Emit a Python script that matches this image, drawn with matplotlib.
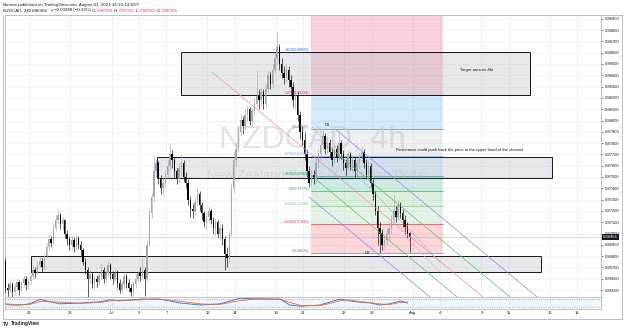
import matplotlib
matplotlib.use("Agg")
import matplotlib.pyplot as plt
import matplotlib.transforms as mtransforms
from matplotlib.patches import Rectangle

plt.rcParams['font.family'] = ['Liberation Sans', 'DejaVu Sans']

# ---------------- data (prices in pips, 1 pip = 0.0001) ----------------
first_open = 8676
closes = [
    8652, 8650, 8655, 8648, 8653,
    8657, 8650, 8656, 8660, 8654, 8658,
    8662, 8668, 8665, 8672, 8676, 8670,
    8680, 8688, 8695, 8692, 8705, 8712,
    8716, 8708, 8712, 8700, 8695, 8690,
    8694, 8688, 8696, 8690, 8685, 8675,
    8668, 8660, 8664, 8655, 8660, 8657,
    8662, 8668, 8660, 8665, 8672, 8664,
    8660, 8665, 8656, 8650, 8655, 8662,
    8656, 8652, 8648, 8655, 8660, 8665,
    8662, 8668, 8660, 8690, 8718, 8732,
    8755, 8762, 8748, 8740, 8745, 8752,
    8760, 8770, 8765, 8755, 8748, 8758,
    8762, 8750, 8745, 8730, 8722, 8720,
    8728, 8735, 8725, 8718, 8710, 8715,
    8720, 8712, 8705, 8710, 8700, 8705,
    8695, 8682, 8678, 8700, 8740, 8765,
    8775, 8790, 8800, 8795, 8805, 8810,
    8800, 8808, 8815, 8822, 8818, 8825,
    8815, 8828, 8840, 8832, 8845, 8855,
    8865, 8850, 8842, 8838, 8845, 8836,
    8830, 8818, 8822, 8805, 8790, 8783,
    8770, 8755, 8745, 8752, 8748, 8762,
    8770, 8778, 8786, 8775, 8780, 8772,
    8765, 8775, 8768, 8780, 8770, 8762,
    8758, 8770, 8760, 8765, 8755, 8762,
    8768, 8772, 8762, 8752, 8760, 8745,
    8735, 8720, 8705, 8700, 8690, 8694,
    8700, 8705, 8712, 8720, 8715, 8725,
    8718, 8712, 8706, 8700, 8696.6,
]
highs = [
    8678, 8656, 8658, 8657, 8656,
    8660, 8659, 8658, 8663, 8662, 8661,
    8665, 8672, 8670, 8676, 8680, 8678,
    8683, 8692, 8700, 8698, 8709, 8716,
    8721, 8718, 8715, 8713, 8703, 8698,
    8698, 8697, 8699, 8698, 8693, 8687,
    8678, 8670, 8668, 8666, 8663, 8663,
    8665, 8674, 8670, 8668, 8676, 8674,
    8667, 8669, 8668, 8660, 8658, 8666,
    8664, 8660, 8655, 8658, 8664, 8668,
    8670, 8678, 8670, 8694, 8722, 8736,
    8768, 8766, 8764, 8752, 8749, 8756,
    8765, 8780, 8774, 8768, 8758, 8762,
    8770, 8765, 8754, 8748, 8733, 8726,
    8732, 8740, 8738, 8728, 8720, 8719,
    8724, 8722, 8715, 8714, 8712, 8708,
    8708, 8698, 8688, 8703, 8745, 8772,
    8780, 8795, 8806, 8804, 8810, 8814,
    8812, 8812, 8820, 8845, 8828, 8830,
    8828, 8832, 8845, 8843, 8850, 8860,
    8878, 8868, 8855, 8848, 8850, 8848,
    8840, 8834, 8826, 8825, 8808, 8795,
    8790, 8775, 8760, 8757, 8756, 8766,
    8775, 8782, 8792, 8789, 8785, 8784,
    8776, 8779, 8778, 8789, 8783, 8774,
    8766, 8774, 8772, 8769, 8768, 8766,
    8772, 8777, 8775, 8766, 8764, 8762,
    8748, 8738, 8724, 8710, 8704, 8698,
    8704, 8710, 8716, 8734, 8724, 8730,
    8728, 8722, 8716, 8710, 8701.3,
]
lows = [
    8648, 8645, 8647, 8644, 8646,
    8650, 8646, 8648, 8653, 8650, 8651,
    8655, 8660, 8661, 8663, 8670, 8666,
    8668, 8678, 8685, 8688, 8690, 8702,
    8708, 8704, 8703, 8696, 8690, 8685,
    8686, 8684, 8685, 8686, 8680, 8672,
    8664, 8644, 8656, 8652, 8651, 8653,
    8654, 8660, 8656, 8657, 8662, 8660,
    8655, 8657, 8652, 8647, 8647, 8652,
    8652, 8648, 8645, 8646, 8652, 8657,
    8658, 8660, 8645, 8658, 8688, 8714,
    8728, 8750, 8744, 8735, 8734, 8740,
    8748, 8756, 8758, 8750, 8744, 8745,
    8752, 8746, 8740, 8725, 8715, 8714,
    8716, 8724, 8720, 8712, 8706, 8704,
    8710, 8708, 8700, 8698, 8696, 8694,
    8690, 8668, 8670, 8675, 8698, 8736,
    8760, 8772, 8786, 8788, 8792, 8800,
    8796, 8795, 8804, 8812, 8810, 8814,
    8810, 8812, 8825, 8828, 8830, 8842,
    8850, 8845, 8838, 8832, 8834, 8830,
    8822, 8812, 8810, 8800, 8784, 8778,
    8765, 8750, 8741, 8742, 8744, 8745,
    8758, 8765, 8774, 8770, 8771, 8768,
    8760, 8762, 8763, 8765, 8766, 8756,
    8752, 8755, 8756, 8755, 8750, 8752,
    8758, 8764, 8758, 8748, 8748, 8741,
    8730, 8716, 8690, 8683, 8685, 8686,
    8690, 8695, 8700, 8708, 8710, 8712,
    8714, 8706, 8700, 8696, 8683.3,
]
bars_per_day = [5] + [6] * 28 + [5]
first_bar_in_day = 1

last_price = 0.86966

# time axis (trading-day index, Jun 21 = 0)
tick_days = [2, 5, 8, 10, 12, 15, 17, 20, 22, 25, 27, 30, 32, 35, 37, 40, 42]
tick_labels = ["23", "28", "Jul", "5", "7", "12", "14", "19", "21", "26", "28",
               "Aug", "4", "9", "11", "16", "18"]
price_ticks = [0.865, 0.866, 0.867, 0.868, 0.869, 0.870, 0.871, 0.872, 0.873,
               0.874, 0.875, 0.876, 0.877, 0.878, 0.879, 0.880, 0.881, 0.882,
               0.883, 0.884, 0.885, 0.886, 0.887, 0.888, 0.889]

# fibonacci retracement (D2 low -> D1 high)
fib_ratios = [0, 0.236, 0.382, 0.5, 0.618, 0.786, 1, 1.272, 1.618, 2.618]
fib_prices = [0.86825, 0.87085, 0.87245, 0.87375, 0.87505, 0.87690, 0.87925,
              0.88224, 0.88605, 0.89705]
fib_line_colors = ['#787b86', '#f23645', '#81c784', '#4caf50', '#089981',
                   '#64b5f6', '#787b86', '#e91e63', '#2962ff', '#f23645']
fib_fill_colors = [None, '#f23645', '#81c784', '#4caf50', '#089981',
                   '#64b5f6', '#b2b5be', '#2196f3', '#e91e63', '#e91e63']
fib_start, fib_end = 22.55, 32.19

# rectangles: (day0, day1, low, high)
boxes = [
    (13.07, 38.54, 0.88224, 0.88605),
    (11.31, 40.15, 0.87491, 0.87677),
    (2.12, 39.34, 0.86659, 0.86801),
]

# descending parallel channel lines: (day0, price0, day1, price1, color)
channel_lines = [
    (15.33, 0.88429, 35.11, 0.86438, '#f48fb1'),
    (23.94, 0.87760, 37.08, 0.86438, '#66bb6a'),
    (24.31, 0.87925, 39.05, 0.86438, '#7e8ee8'),
    (22.63, 0.87509, 33.21, 0.86438, '#66bb6a'),
    (22.41, 0.87323, 31.24, 0.86438, '#7e8ee8'),
]
# dashed guide lines: (day0, price0, day1, price1, color)
dashed_lines = [
    (22.63, 0.87942, 31.97, 0.86748, '#9598a1'),
    (29.34, 0.86987, 31.97, 0.86659, '#f48fb1'),
]

# stochastic oscillator
osc_days = [0, 0.6, 1.3, 2.0, 2.8, 4.2, 5.7, 7.2, 7.9, 8.6, 10.1, 11.5, 13.0,
            14.5, 15.9, 17.4, 18.8, 20.3, 21.0, 21.8, 23.2, 23.9, 24.7, 25.4,
            26.1, 26.9, 27.6, 28.3, 29.1, 29.6]
osc_k = [50, 33, 33, 43, 80, 43, 50, 60, 77, 67, 83, 83, 50, 33, 43, 90, 83,
         83, 33, 23, 33, 57, 83, 67, 57, 50, 33, 43, 67, 50]
osc_d = [45, 40, 35, 38, 62, 58, 47, 55, 68, 72, 76, 82, 65, 42, 38, 70, 86,
         82, 55, 30, 28, 45, 70, 75, 62, 53, 42, 38, 55, 58]

# ---------------- layout helpers ----------------
W, H = 625, 332
fig = plt.figure(figsize=(W / 100, H / 100), dpi=100)
fig.patch.set_facecolor('white')


def fx(px):
    return px / W


def fy(py):
    return 1 - py / H


def day_of(px):
    return (px - 2) / 13.7


def price_of(py):
    return 0.865 + (290 - py) / 11300


ax = fig.add_axes([fx(5), fy(297), (601 - 5) / W, (297 - 15) / H])
osc = fig.add_axes([fx(5), fy(309), (601 - 5) / W, (309 - 297) / H])

xlim = (day_of(5), day_of(601))
for a in (ax, osc):
    a.set_xlim(*xlim)
    for s in a.spines.values():
        s.set_color('#b2b5be')
        s.set_linewidth(0.6)
    a.set_xticks(tick_days)
ax.set_ylim(price_of(297), price_of(15))

# grid
for d in tick_days:
    ax.axvline(d, color='#eef0f5', lw=0.6, zorder=0)
    osc.axvline(d, color='#eef0f5', lw=0.6, zorder=0)
for p in price_ticks:
    ax.axhline(p, color='#eef0f5', lw=0.6, zorder=0)

# watermark
ax.text(day_of(312), price_of(140), "NZDCAD, 4h", fontsize=23, color='#c3c6ce',
        alpha=0.5, ha='center', va='center', zorder=1.5)
ax.text(day_of(318), price_of(176), "New Zealand Dollar / Canadian Dollar",
        fontsize=9.5, color='#c3c6ce', alpha=0.5, ha='center', va='center',
        zorder=1.5)

# fibonacci bands
for i in range(1, len(fib_prices)):
    ax.fill_between([fib_start, fib_end], fib_prices[i - 1], fib_prices[i],
                    color=fib_fill_colors[i], alpha=0.2, lw=0, zorder=1)
for i in range(len(fib_prices) - 1):
    ax.plot([fib_start, fib_end], [fib_prices[i]] * 2, color=fib_line_colors[i],
            lw=0.5, zorder=1.2)
    ax.text(fib_start - 0.1, fib_prices[i], f"{fib_ratios[i]}({fib_prices[i]:.5f})",
            fontsize=2.6, color=fib_line_colors[i], ha='right', va='bottom',
            zorder=5)

# boxes
for d0, d1, lo, hi in boxes:
    ax.add_patch(Rectangle((d0, lo), d1 - d0, hi - lo, facecolor='#b2b5be',
                           alpha=0.3, edgecolor='none', zorder=2))
    ax.add_patch(Rectangle((d0, lo), d1 - d0, hi - lo, facecolor='none',
                           edgecolor='#131722', lw=0.7, zorder=2.1))

ax.text(day_of(477), price_of(70), "Target area on 4hr", fontsize=3,
        color='#131722', ha='center', va='center', zorder=5)
ax.text(day_of(396), price_of(150),
        "Resistance could push back the price to the upper band of the channel",
        fontsize=3, color='#131722', ha='left', va='center', zorder=5)

# candles
xs, opens = [], []
prev = first_open
idx = 0
for d, n in enumerate(bars_per_day):
    start = first_bar_in_day if d == 0 else 0
    for k in range(start, start + n):
        xs.append(d + (k + 0.5) / 6)
        opens.append(prev)
        prev = closes[idx]
        idx += 1

for x, o, c, h, l in zip(xs, opens, closes, highs, lows):
    o, c, h, l = o / 1e4, c / 1e4, h / 1e4, l / 1e4
    up = c >= o
    col = '#a3a6af' if up else '#000000'
    ax.vlines(x, l, h, color=col, lw=0.45, zorder=3)
    ax.bar(x, max(abs(c - o), 0.00003), bottom=min(o, c), width=0.1,
           color=col, lw=0, zorder=3.1)

# channel lines
for d0, p0, d1, p1, col in channel_lines:
    ax.plot([d0, d1], [p0, p1], color=col, lw=0.5, zorder=4)
for d0, p0, d1, p1, col in dashed_lines:
    ax.plot([d0, d1], [p0, p1], color=col, lw=0.5, ls=(0, (2, 1.5)), zorder=4)

# D1 / D2
ax.text(day_of(327), price_of(127), "D1", fontsize=3, color='#131722',
        ha='center', va='bottom', zorder=5)
ax.text(day_of(367), price_of(253), "D2", fontsize=3, color='#131722',
        ha='center', va='center', zorder=5)

# last price line and label
ax.axhline(last_price, color='#787b86', lw=0.4, ls=(0, (1, 1)), zorder=4)
trans = mtransforms.blended_transform_factory(ax.transAxes, ax.transData)
ax.text(1.003, last_price, f"{last_price:.5f}", transform=trans, fontsize=3,
        color='white', ha='left', va='center', zorder=6, clip_on=False,
        bbox=dict(boxstyle='square,pad=0.25', fc='#131722', ec='none'))

# price axis
ax.yaxis.tick_right()
ax.set_yticks(price_ticks)
ax.set_yticklabels([f"{p:.5f}" for p in price_ticks])
ax.tick_params(axis='y', labelsize=3, length=1.5, width=0.4, pad=1.5,
               colors='#131722')
ax.tick_params(axis='x', length=0, labelbottom=False)

# oscillator
osc.set_ylim(0, 100)
osc.set_yticks([])
osc.axhspan(20, 80, color='#2196f3', alpha=0.08, lw=0)
for lvl in (20, 80):
    osc.axhline(lvl, color='#787b86', lw=0.4, ls=(0, (2, 2)))
osc.plot(osc_days, osc_k, color='#2962ff', lw=0.6)
osc.plot(osc_days, osc_d, color='#ff6d00', lw=0.6)
osc.set_xticklabels(tick_labels)
osc.tick_params(axis='x', labelsize=3, length=0, pad=1.2, colors='#131722')

# outer frame
frame = [((3, 319), (622, 319)), ((622, 15), (622, 319)), ((3, 15), (3, 319)),
         ((601, 15), (622, 15))]
for (x0, y0), (x1, y1) in frame:
    fig.add_artist(plt.Line2D([fx(x0), fx(x1)], [fy(y0), fy(y1)],
                              color='#b2b5be', lw=0.6))

# header
renderer = fig.canvas.get_renderer()


def chain(segments, x_px, y_px, size, weight='normal'):
    x = x_px
    for s, c in segments:
        t = fig.text(fx(x), fy(y_px), s, color=c, fontsize=size, va='center',
                     ha='left', fontweight=weight)
        bb = t.get_window_extent(renderer=renderer)
        x = bb.x1 + 0.8


chain([("Nirman published on TradingView.com, August 01, 2021 16:10:14 EDT",
        '#131722')], 3, 5, 3.2)
chain([("NZDCAD, 240", '#131722'), ("0.86966", '#131722'), ("\u25bc", '#f23645'),
       ("\u22120.00288 (\u22120.33%)", '#131722'), ("O:", '#131722'),
       ("0.86998", '#f23645'), ("H:", '#131722'), ("0.87013", '#f23645'),
       ("L:", '#131722'), ("0.86833", '#f23645'), ("C:", '#131722'),
       ("0.86966", '#f23645')], 3, 10.5, 3.2)

fig.text(fx(3), fy(324), "TV", fontsize=3.5, fontweight='bold', color='#131722',
         va='center', ha='left')
fig.text(fx(11), fy(324), "TradingView", fontsize=3.5, fontweight='bold',
         color='#131722', va='center', ha='left')

fig.savefig("out.png", dpi=100, facecolor='white')
